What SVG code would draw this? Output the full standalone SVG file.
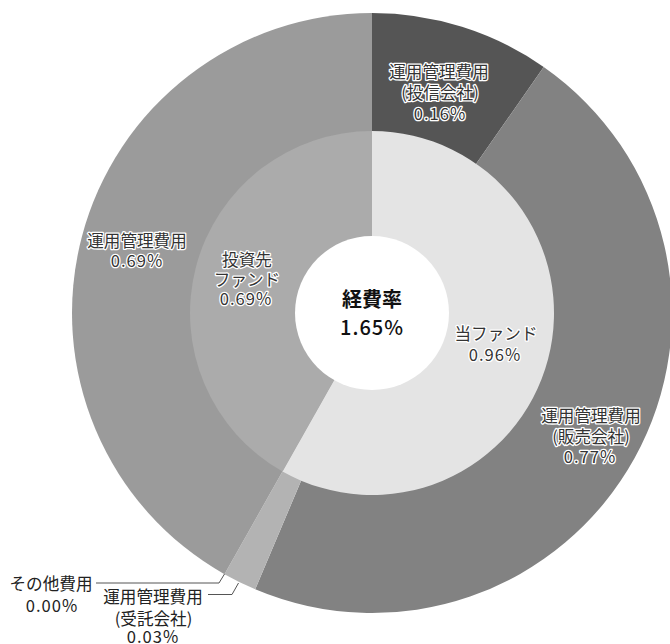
<svg xmlns="http://www.w3.org/2000/svg" width="670" height="644" viewBox="0 0 670 644">
<style>
text{font-family:"Noto Sans CJK JP","Noto Sans",sans-serif;font-size:16.6px;text-anchor:middle;dominant-baseline:central}
.n{letter-spacing:1px}
.h{fill:#333;stroke:#fff;stroke-width:2.6px;stroke-linejoin:round;paint-order:stroke}
.p{fill:#222}
.c{font-size:20px;fill:#111}
.ld{fill:none;stroke:#555;stroke-width:1}
</style>
<rect width="670" height="644" fill="#fff"/>
<g id="outer-ring">
<g id="seg-toushin"><path d="M372,313 L372,13 A300,300 0 0 1 543.71,67.00 Z" fill="#555555"/></g>
<g id="seg-hanbai"><path d="M372,313 L543.71,67.00 A300,300 0 0 1 255.22,589.34 Z" fill="#828282"/></g>
<g id="seg-jutaku"><path d="M372,313 L255.22,589.34 A300,300 0 0 1 224.48,574.22 Z" fill="#b3b3b3"/></g>
<g id="seg-unyo-left"><path d="M372,313 L224.48,574.22 A300,300 0 0 1 372,13 Z" fill="#9b9b9b"/></g>
</g>
<g id="inner-ring">
<g id="seg-tou-fund"><path d="M372,313 L372,131 A182,182 0 1 1 282.50,471.47 Z" fill="#e4e4e4"/></g>
<g id="seg-toushisaki"><path d="M372,313 L282.50,471.47 A182,182 0 0 1 372,131 Z" fill="#ababab"/></g>
</g>
<g id="center">
<circle cx="372" cy="313" r="77" fill="#fff"/>
<text class="c" x="372" y="298" font-weight="bold">経費率</text>
<text class="c n" x="372" y="326" font-weight="500">1.65%</text>
</g>
<g id="connectors">
<polyline class="ld" points="96,583 219,583 224.5,574"/>
<polyline class="ld" points="208,594.5 232,594.5 238.5,583"/>
</g>
<g id="label-toushin">
<text class="h" x="439" y="71">運用管理費用</text>
<text class="h" x="440" y="92">(投信会社)</text>
<text class="h n" x="440" y="113">0.16%</text>
</g>
<g id="label-unyo-left">
<text class="h" x="137" y="240">運用管理費用</text>
<text class="h n" x="137" y="260">0.69%</text>
</g>
<g id="label-toushisaki">
<text class="h" x="247" y="259">投資先</text>
<text class="h" x="247" y="279">ファンド</text>
<text class="h n" x="246" y="298">0.69%</text>
</g>
<g id="label-tou-fund">
<text class="h" x="496" y="333">当ファンド</text>
<text class="h n" x="495" y="354">0.96%</text>
</g>
<g id="label-hanbai">
<text class="h" x="591" y="415">運用管理費用</text>
<text class="h" x="591" y="436">(販売会社)</text>
<text class="h n" x="590" y="456">0.77%</text>
</g>
<g id="label-sonota">
<text class="p" x="51" y="582.5">その他費用</text>
<text class="p n" x="52" y="604.5">0.00%</text>
</g>
<g id="label-jutaku">
<text class="p" x="153" y="595.5">運用管理費用</text>
<text class="p" x="153.5" y="618">(受託会社)</text>
<text class="p n" x="153" y="636">0.03%</text>
</g>
</svg>
